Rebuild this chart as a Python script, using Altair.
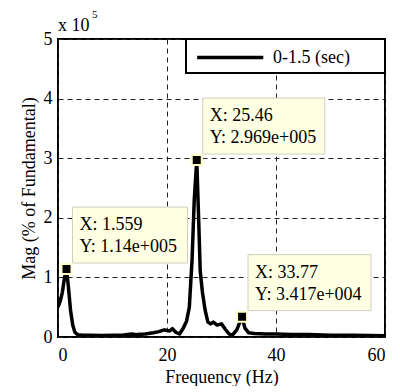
import altair as alt
import pandas as pd

# Spectrum (frequency in Hz, magnitude in units of 1e5)
freq = [0.0, 0.4, 0.8, 1.2, 1.559, 1.9, 2.3, 2.7, 3.1, 3.6, 4.5, 6.0, 8.0, 10.0,
        12.0, 13.5, 14.5, 16.0, 17.5, 18.5, 19.5, 20.5, 21.0, 21.6, 22.3, 23.0,
        23.6, 24.1, 24.6, 25.0, 25.46, 25.8, 26.1, 26.5, 27.0, 27.5, 28.0, 28.5,
        29.2, 30.0, 30.7, 31.4, 32.0, 32.8, 33.77, 34.3, 35.0, 36.0, 38.0, 40.0,
        43.0, 46.0, 50.0, 54.0, 57.0, 60.0]
mag = [0.50, 0.60, 0.75, 1.00, 1.14, 0.85, 0.45, 0.20, 0.08, 0.04, 0.03, 0.03,
       0.025, 0.03, 0.035, 0.05, 0.04, 0.05, 0.07, 0.09, 0.12, 0.10, 0.14, 0.08,
       0.05, 0.15, 0.27, 0.50, 1.30, 2.30, 2.969, 2.00, 1.10, 0.75, 0.45, 0.25,
       0.22, 0.25, 0.20, 0.22, 0.13, 0.05, 0.03, 0.12, 0.3417, 0.15, 0.07, 0.06,
       0.05, 0.05, 0.04, 0.04, 0.03, 0.03, 0.025, 0.02]
series_name = "0-1.5 (sec)"

# Data tips
tip_freq = [1.559, 25.46, 33.77]
tip_mag = [1.14, 2.969, 0.3417]
tip_xtxt = ["X: 1.559", "X: 25.46", "X: 33.77"]
tip_ytxt = ["Y: 1.14e+005", "Y: 2.969e+005", "Y: 3.417e+004"]

x_ticks = [0, 20, 40, 60]
y_ticks = [0, 1, 2, 3, 4, 5]

FONT = "Liberation Serif, Times New Roman, serif"
FS = 18
box_w = [115, 122, 123]

df = pd.DataFrame({"f": freq, "m": mag, "s": [series_name] * len(freq)})

xs = alt.Scale(domain=[0, 60], nice=False, zero=False)
ys = alt.Scale(domain=[0, 5], nice=False)

line = alt.Chart(df).mark_line(strokeWidth=3.5, strokeJoin="round", clip=True).encode(
    x=alt.X("f:Q", scale=xs,
            axis=alt.Axis(values=x_ticks, title="Frequency (Hz)", labelPadding=9,
                          format="d", titleY=45, titleBaseline="alphabetic")),
    y=alt.Y("m:Q", scale=ys,
            axis=alt.Axis(values=y_ticks, title="Mag (% of Fundamental)", labelPadding=6,
                          format="d", titleX=-29, titleY=149, titleBaseline="middle",
                          titleAlign="center")),
    color=alt.Color("s:N", scale=alt.Scale(range=["black"]),
                    legend=alt.Legend(title="\u00a0", titleOrient="right", titlePadding=29,
                                      titleFontSize=FS,
                                      orient="none", legendX=128, legendY=0,
                                      symbolType="M-0.7,0H5.6", symbolSize=441,
                                      symbolStrokeWidth=3.5, labelOffset=56,
                                      labelFont=FONT, labelFontSize=FS,
                                      fillColor="white", strokeColor="black",
                                      padding=6)),
)

layers = [line]
for i in range(len(tip_freq)):
    tdf = pd.DataFrame({"f": [tip_freq[i]], "m": [tip_mag[i]],
                        "xt": [tip_xtxt[i]], "yt": [tip_ytxt[i]]})
    base = alt.Chart(tdf)
    box = base.mark_rect(fill="#FFFFE3", stroke="#CFCFBF", strokeWidth=1,
                         xOffset=6, x2Offset=6 + box_w[i],
                         yOffset=-62, y2Offset=-6).encode(
        x=alt.X("f:Q", scale=xs), x2="f:Q",
        y=alt.Y("m:Q", scale=ys), y2="m:Q")
    t1 = base.mark_text(font=FONT, fontSize=FS, align="left", baseline="alphabetic",
                        dx=13, dy=-39, color="black").encode(
        x=alt.X("f:Q", scale=xs), y=alt.Y("m:Q", scale=ys), text="xt:N")
    t2 = base.mark_text(font=FONT, fontSize=FS, align="left", baseline="alphabetic",
                        dx=13, dy=-17, color="black").encode(
        x=alt.X("f:Q", scale=xs), y=alt.Y("m:Q", scale=ys), text="yt:N")
    layers += [box, t1, t2]

tipdf = pd.DataFrame({"f": tip_freq, "m": tip_mag})
markers = alt.Chart(tipdf).mark_square(size=100, fill="black", stroke="#FFFFC8",
                                       strokeWidth=2, opacity=1).encode(
    x=alt.X("f:Q", scale=xs), y=alt.Y("m:Q", scale=ys))
layers.append(markers)

mult = alt.Chart(pd.DataFrame({"t": ["x 10"]})).mark_text(
    font=FONT, fontSize=FS, align="left", baseline="alphabetic", color="black").encode(
    x=alt.value(0), y=alt.value(-8), text="t:N")
sup = alt.Chart(pd.DataFrame({"t": ["5"]})).mark_text(
    font=FONT, fontSize=11, align="left", baseline="alphabetic", color="black").encode(
    x=alt.value(34), y=alt.value(-21), text="t:N")
layers += [mult, sup]

chart = alt.layer(*layers).properties(
    width=327, height=298,
    autosize=alt.AutoSizeParams(type="none"),
    padding={"left": 50, "top": 31, "right": 7, "bottom": 49},
    background="white",
).configure_view(stroke="black", strokeWidth=2).configure_axis(
    domain=False, ticks=False, grid=True, gridColor="#222222", gridDash=[5, 4],
    gridWidth=1, labelFont=FONT, labelFontSize=FS, labelColor="black",
    titleFont=FONT, titleFontSize=FS, titleFontWeight="normal", titleColor="black",
).configure_legend(labelFont=FONT, labelFontSize=FS, labelColor="black",
                   titleFont=FONT, strokeWidth=2)

chart.save("out.html", embed_options={"renderer": "svg", "actions": False})
